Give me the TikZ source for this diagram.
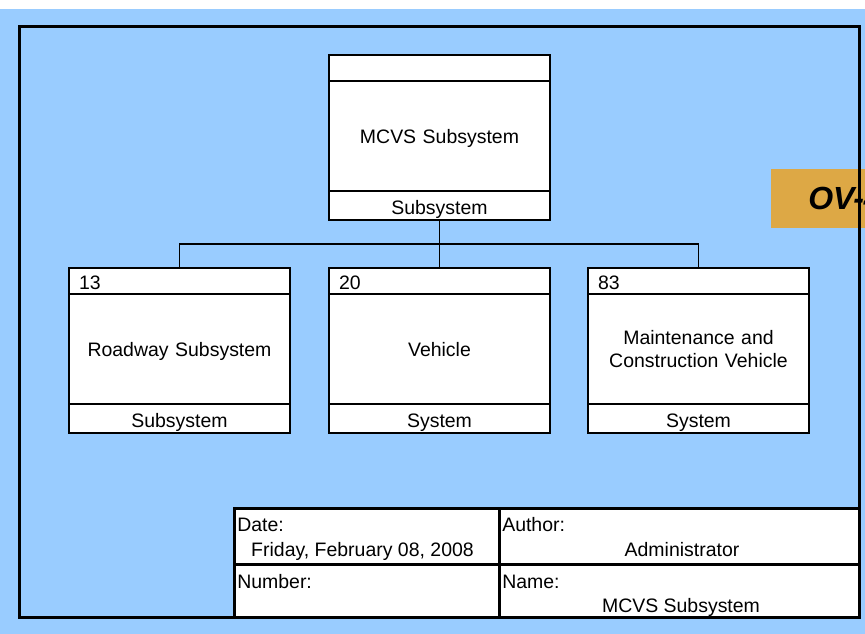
\documentclass[tikz,border=0pt]{standalone}
\usepackage{fontspec}
\setmainfont{Liberation Sans}
\usetikzlibrary{positioning, calc}
\definecolor{cSheet}{RGB}{153, 204, 255}
\definecolor{cTag}{RGB}{221, 168, 69}
\definecolor{tDark}{RGB}{0, 0, 0}

\begin{document}
\begin{tikzpicture}[
    x=0.75pt, y=-0.75pt,
    font=\fontsize{14.6pt}{17.3pt}\selectfont,
    node distance=0pt,
    part/.style={
        draw=tDark,
        line width=1.1pt,
        fill=white,
        minimum width=165.75pt,
        inner sep=0pt,
        outer sep=0pt
    },
    head/.style={part, minimum height=19.5pt, text width=150.75pt, align=left, text height=13.5pt, text depth=0pt},
    body/.style={part, minimum height=82.5pt, text width=150pt, align=center, text depth=0pt},
    foot/.style={part, minimum height=21.75pt, text width=150pt, align=center, text height=13pt, text depth=0pt},
    cell/.style={draw=tDark, line width=2.25pt, fill=white, inner sep=0pt, outer sep=0pt, anchor=north west},
    link/.style={line width=1.1pt, color=tDark}
]

\useasboundingbox (0,0) rectangle (865,634);
\clip (0,0) rectangle (865,634);
\fill[white] (0,0) rectangle (865,9);
\fill[cSheet] (0,9) rectangle (865,634);

% Tag at the right edge
\node[fill=cTag, anchor=north west, minimum height=44.25pt, inner xsep=27.75pt, inner ysep=0pt,
      font=\fontsize{24pt}{28pt}\selectfont\bfseries\itshape] (tag) at (771,169) {OV-4};

% Sheet frame
\draw[line width=2.25pt, color=tDark] (19,27) rectangle (859,618);

% Top subsystem
\node[head, anchor=north west] (mcvsHead) at (329,55) {};
\node[body, below=of mcvsHead] (mcvsBody) {MCVS Subsystem};
\node[foot, below=of mcvsBody] (mcvsFoot) {Subsystem};

% Roadway
\node[head, anchor=north west] (roadHead) at (69,268) {13};
\node[body, below=of roadHead] (roadBody) {Roadway Subsystem};
\node[foot, below=of roadBody] (roadFoot) {Subsystem};

% Vehicle
\node[head, anchor=north west] (vehHead) at (329,268) {20};
\node[body, below=of vehHead] (vehBody) {Vehicle};
\node[foot, below=of vehBody] (vehFoot) {System};

% Maintenance and construction vehicle
\node[head, anchor=north west] (mcvHead) at (588,268) {83};
\node[body, text depth=, below=of mcvHead] (mcvBody) {Maintenance and\\Construction Vehicle};
\node[foot, below=of mcvBody] (mcvFoot) {System};

% Tree connectors
\coordinate (bus) at ($(mcvsFoot.south)!0.5!(vehHead.north)$);
\draw[link] (mcvsFoot.south) -- (bus);
\draw[link] (roadHead.north) |- (bus) -| (mcvHead.north);
\draw[link] (bus) -- (vehHead.north);

% Title block
\node[cell, minimum width=198.75pt, minimum height=42pt] (cellDate) at (234,509) {};
\node[cell, minimum width=270pt, minimum height=42pt] (cellAuthor) at (cellDate.north east) {};
\node[cell, minimum width=198.75pt, minimum height=39.75pt] (cellNumber) at (cellDate.south west) {};
\node[cell, minimum width=270pt, minimum height=39.75pt] (cellName) at (cellNumber.north east) {};

\node[anchor=base west, inner sep=0pt] (dateLbl) at ($(cellDate.north west)+(3,23)$) {Date:};
\node[anchor=base, inner sep=0pt] (dateVal) at ($(cellDate.south)+(-4,-8)$) {Friday, February 08, 2008};
\node[anchor=base west, inner sep=0pt] (authorLbl) at ($(cellAuthor.north west)+(3,23)$) {Author:};
\node[anchor=base, inner sep=0pt] (authorVal) at ($(cellAuthor.south)+(3,-8)$) {Administrator};
\node[anchor=base west, inner sep=0pt] (numberLbl) at ($(cellNumber.north west)+(3,24)$) {Number:};
\node[anchor=base west, inner sep=0pt] (nameLbl) at ($(cellName.north west)+(3,24)$) {Name:};
\node[anchor=base, inner sep=0pt] (nameVal) at ($(cellName.south)+(2,-5)$) {MCVS Subsystem};

\end{tikzpicture}
\end{document}
